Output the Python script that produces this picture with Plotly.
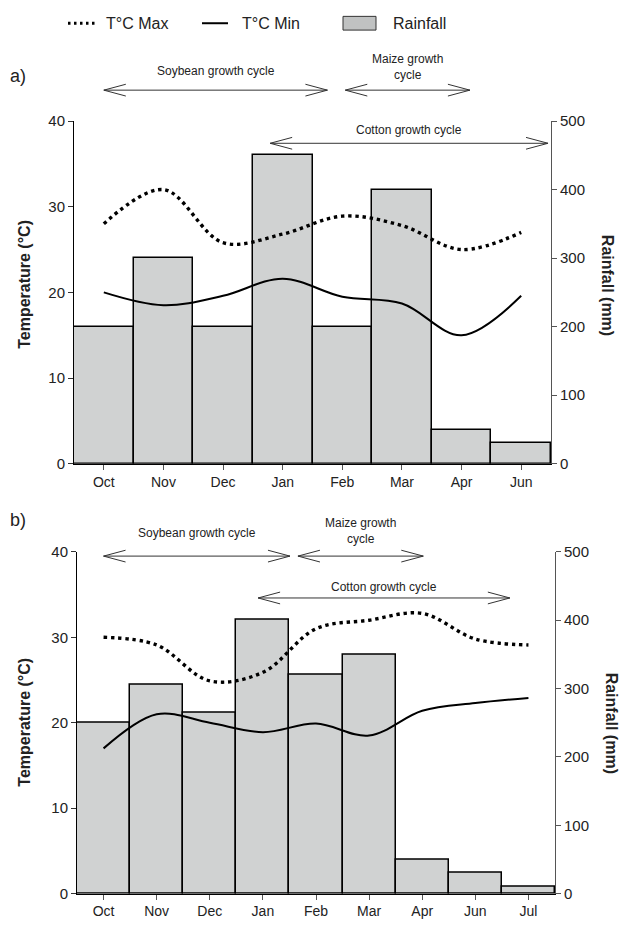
import plotly.graph_objects as go

# ---------------- data ----------------
months_a = ["Oct", "Nov", "Dec", "Jan", "Feb", "Mar", "Apr", "Jun"]
rain_a = [200, 300, 200, 450, 200, 400, 50, 30]
tmax_a = [28.0, 32.0, 25.8, 26.8, 28.9, 27.8, 25.0, 27.0]
tmin_a = [20.0, 18.5, 19.6, 21.6, 19.5, 18.7, 15.0, 19.6]

months_b = ["Oct", "Nov", "Dec", "Jan", "Feb", "Mar", "Apr", "Jun", "Jul"]
rain_b = [250, 305, 265, 400, 320, 350, 50, 30, 10]
tmax_b = [30.0, 29.1, 24.9, 25.9, 31.0, 32.0, 32.8, 29.8, 29.1]
tmin_b = [17.0, 21.0, 20.0, 18.9, 19.9, 18.5, 21.4, 22.3, 22.9]

# growth cycles: (label, start index, end index, arrow y (°C), text y (°C))
cycles_a = [
    ("Soybean growth cycle", 0.0, 3.75, 43.6, 45.8),
    ("Maize growth<br>cycle", 4.05, 6.14, 43.6, 46.3),
    ("Cotton growth cycle", 2.79, 7.45, 37.4, 38.9),
]
cycles_b = [
    ("Soybean growth cycle", 0.0, 3.51, 39.5, 42.2),
    ("Maize growth<br>cycle", 3.66, 6.02, 39.5, 42.4),
    ("Cotton growth cycle", 2.91, 7.65, 34.6, 35.9),
]

W, H = 625, 925
FONT = "Liberation Sans, Arial, Helvetica, sans-serif"
BAR_FILL = "#d0d2d2"


def py(y):
    """vertical pixel position (from top) -> paper fraction"""
    return 1 - y / H


dom_a_x = [74 / W, 551 / W]
dom_a_y = [py(463.3), py(114.1)]
dom_b_x = [77 / W, 555 / W]
dom_b_y = [py(901.2), py(553.0)]

fig = go.Figure()

DOT = "3.4px,3.8px"

def add_panel(months, rain, tmax, tmin, xa, ya_rain, ya_temp):
    xs = list(range(len(months)))
    fig.add_trace(go.Bar(x=xs, y=rain, xaxis=xa, yaxis=ya_rain, width=1,
                         marker=dict(color=BAR_FILL, line=dict(color="black", width=1.5)),
                         showlegend=False))
    fig.add_trace(go.Scatter(x=xs, y=tmax, xaxis=xa, yaxis=ya_temp, mode="lines",
                             line=dict(shape="spline", smoothing=1, color="black", width=3.4,
                                       dash=DOT), showlegend=False))
    fig.add_trace(go.Scatter(x=xs, y=tmin, xaxis=xa, yaxis=ya_temp, mode="lines",
                             line=dict(shape="spline", smoothing=1, color="black", width=2),
                             showlegend=False))

add_panel(months_a, rain_a, tmax_a, tmin_a, "x", "y", "y2")
add_panel(months_b, rain_b, tmax_b, tmin_b, "x2", "y3", "y4")

xtickfont = dict(family=FONT, size=14, color="#222")
ytickfont = dict(family=FONT, size=15, color="#222")
common_x = dict(ticks="outside", ticklen=5, tickcolor="#555", showline=True, linecolor="black",
                linewidth=1, showgrid=False, zeroline=False, tickfont=xtickfont)
rain_ax = dict(side="right", range=[0, 500], dtick=100, ticks="outside", ticklen=5,
               tickcolor="#555", showline=True, linecolor="#555", linewidth=1,
               showgrid=False, zeroline=False, tickfont=ytickfont)
temp_ax = dict(side="left", range=[0, 40], dtick=10, ticks="outside", ticklen=5,
               tickcolor="#333", showline=True, linecolor="black", linewidth=1,
               showgrid=False, zeroline=False, tickfont=ytickfont)

fig.update_layout(
    width=W, height=H, margin=dict(l=0, r=0, t=0, b=0),
    paper_bgcolor="white", plot_bgcolor="rgba(0,0,0,0)",
    showlegend=False, bargap=0,
    font=dict(family=FONT, color="#222"),
    xaxis=dict(domain=dom_a_x, anchor="y", range=[-0.5, len(months_a) - 0.5],
               tickvals=list(range(len(months_a))), ticktext=months_a, **common_x),
    yaxis=dict(domain=dom_a_y, anchor="x", **rain_ax),
    yaxis2=dict(overlaying="y", anchor="x", **temp_ax),
    xaxis2=dict(domain=dom_b_x, anchor="y3", range=[-0.5, len(months_b) - 0.5],
                tickvals=list(range(len(months_b))), ticktext=months_b, **common_x),
    yaxis3=dict(domain=dom_b_y, anchor="x2", **rain_ax),
    yaxis4=dict(overlaying="y3", anchor="x2", **temp_ax),
)

shapes = []
annotations = []

def to_paper(idx, temp, n, dx, dy):
    fx = dx[0] + (idx + 0.5) / n * (dx[1] - dx[0])
    fy = dy[0] + temp / 40 * (dy[1] - dy[0])
    return fx, fy

def add_cycles(cycles, n, dx, dy):
    for label, s, e, ya, yt in cycles:
        x0, y0 = to_paper(s, ya, n, dx, dy)
        x1, _ = to_paper(e, ya, n, dx, dy)
        lc = dict(color="#333", width=1)
        shapes.append(dict(type="line", xref="paper", yref="paper", x0=x0, x1=x1, y0=y0, y1=y0, line=lc))
        hx, hy = 22 / W, 6 / H
        for sx in (x0, x1):
            sign = 1 if sx == x0 else -1
            shapes.append(dict(type="line", xref="paper", yref="paper", x0=sx, y0=y0,
                               x1=sx + sign * hx, y1=y0 + hy, line=lc))
            shapes.append(dict(type="line", xref="paper", yref="paper", x0=sx, y0=y0,
                               x1=sx + sign * hx, y1=y0 - hy, line=lc))
        tx, ty = to_paper((s + e) / 2, yt, n, dx, dy)
        annotations.append(dict(text=label, x=tx, y=ty, xref="paper", yref="paper",
                                showarrow=False, font=dict(family=FONT, size=12, color="#222"),
                                xanchor="center", yanchor="middle"))

add_cycles(cycles_a, len(months_a), dom_a_x, dom_a_y)
add_cycles(cycles_b, len(months_b), dom_b_x, dom_b_y)

# axis titles
for yc, x_l, x_r in [(py(281), 25, 607), (py(727), 25, 611)]:
    annotations.append(dict(text="<b>Temperature (°C)</b>", x=x_l / W, y=yc, xref="paper", yref="paper",
                            textangle=-90, showarrow=False, xanchor="center", yanchor="middle",
                            font=dict(family=FONT, size=16, color="#222")))
    annotations.append(dict(text="<b>Rainfall (mm)</b>", x=x_r / W, y=yc, xref="paper", yref="paper",
                            textangle=90, showarrow=False, xanchor="center", yanchor="middle",
                            font=dict(family=FONT, size=16, color="#222")))

# panel labels
for lab, yy in [("a)", 68), ("b)", 521)]:
    annotations.append(dict(text=lab, x=18 / W, y=py(yy), xref="paper", yref="paper", showarrow=False,
                            xanchor="center", yanchor="middle", font=dict(family=FONT, size=18, color="#222")))

# legend
ly = py(14.5)
shapes.append(dict(type="line", xref="paper", yref="paper", x0=68 / W, x1=98 / W, y0=ly, y1=ly,
                   line=dict(color="black", width=3.2, dash="2.5px,3.5px")))
shapes.append(dict(type="line", xref="paper", yref="paper", x0=202 / W, x1=228 / W, y0=ly, y1=ly,
                   line=dict(color="black", width=2)))
shapes.append(dict(type="rect", xref="paper", yref="paper", x0=343 / W, x1=376 / W,
                   y0=ly - 7 / H, y1=ly + 7 / H, fillcolor="#c0c2c2", line=dict(color="#333", width=1)))
for txt, x in [("T°C Max", 104), ("T°C Min", 240), ("Rainfall", 391)]:
    annotations.append(dict(text=txt, x=x / W, y=ly, xref="paper", yref="paper", showarrow=False,
                            xanchor="left", yanchor="middle", font=dict(family=FONT, size=16, color="#222")))

fig.update_layout(shapes=shapes, annotations=annotations)
fig.write_html(
    "out.html",
    config={"displayModeBar": False},
    post_script=(
        "var d=document.getElementById('{plot_id}');"
        "d.style.position='absolute';d.style.top='0px';d.style.left='0px';"
        "document.body.style.margin='0';document.body.style.overflow='hidden';"
    ),
)
